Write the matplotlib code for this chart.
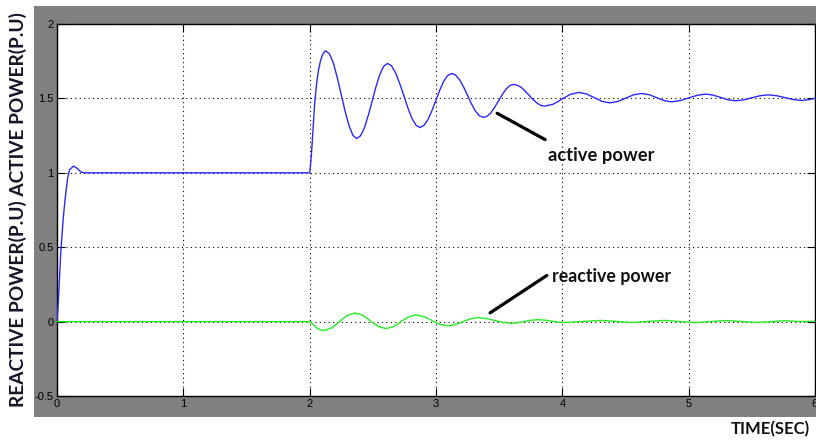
import matplotlib
matplotlib.use("Agg")
import matplotlib.pyplot as plt
from matplotlib.patches import Rectangle

# ---- data ----
active_t = [0.0, 0.01, 0.03, 0.05, 0.065, 0.085, 0.10, 0.13, 0.16, 0.19, 0.22, 2.0,
            2.01, 2.02, 2.03, 2.04, 2.055, 2.07, 2.085, 2.10, 2.115, 2.127,
            2.158, 2.189, 2.219, 2.25, 2.281, 2.312, 2.342, 2.373,
            2.403, 2.434, 2.464, 2.495, 2.525, 2.555, 2.586, 2.616,
            2.648, 2.68, 2.712, 2.745, 2.777, 2.809, 2.841, 2.873,
            2.904, 2.936, 2.967, 2.999, 3.03, 3.061, 3.093, 3.124,
            3.155, 3.187, 3.218, 3.25, 3.281, 3.312, 3.344, 3.375,
            3.405, 3.435, 3.465, 3.495, 3.524, 3.554, 3.584, 3.614,
            3.645, 3.676, 3.706, 3.737, 3.768, 3.799, 3.829, 3.86,
            3.928, 3.995, 4.063, 4.13,
            4.191, 4.253, 4.314, 4.375,
            4.438, 4.501, 4.564, 4.627,
            4.687, 4.746, 4.806, 4.865,
            4.933, 5.0, 5.068, 5.135,
            5.194, 5.253, 5.311, 5.37,
            5.435, 5.5, 5.565, 5.63,
            5.697, 5.764, 5.83, 5.897,
            5.95, 6.0]
active_p = [0.0, 0.12, 0.47, 0.70, 0.83, 0.97, 1.02, 1.045, 1.03, 1.005, 1.0, 1.0,
            1.08, 1.20, 1.34, 1.47, 1.60, 1.69, 1.75, 1.79, 1.812, 1.82,
            1.798, 1.734, 1.638, 1.525, 1.412, 1.316, 1.252, 1.23,
            1.249, 1.304, 1.386, 1.4825, 1.579, 1.661, 1.716, 1.735,
            1.719, 1.672, 1.602, 1.5195, 1.437, 1.367, 1.320, 1.304,
            1.318, 1.357, 1.416, 1.486, 1.556, 1.615, 1.654, 1.668,
            1.657, 1.625, 1.577, 1.52, 1.463, 1.415, 1.383, 1.372,
            1.380, 1.404, 1.441, 1.483, 1.525, 1.562, 1.586, 1.594,
            1.588, 1.573, 1.549, 1.521, 1.493, 1.469, 1.4535, 1.448,
            1.461, 1.494, 1.527, 1.54,
            1.53, 1.505, 1.48, 1.47,
            1.479, 1.5015, 1.524, 1.533,
            1.525, 1.505, 1.485, 1.477,
            1.485, 1.503, 1.521, 1.529,
            1.522, 1.5065, 1.491, 1.484,
            1.49, 1.504, 1.518, 1.524,
            1.518, 1.505, 1.492, 1.486,
            1.492, 1.50]

reactive_t = [0.0, 2.0, 2.03, 2.06, 2.09, 2.113,
              2.174, 2.235, 2.296, 2.357,
              2.419, 2.48, 2.542, 2.603,
              2.663, 2.722, 2.782, 2.841,
              2.904, 2.967, 3.03, 3.093,
              3.153, 3.212, 3.272, 3.331,
              3.397, 3.463, 3.529, 3.595,
              3.648, 3.701, 3.754, 3.807,
              3.86, 3.913, 3.967, 4.02,
              4.165, 4.31, 4.43, 4.55, 4.68, 4.81, 4.93, 5.05, 5.17, 5.29,
              5.42, 5.55, 5.655, 5.76, 5.88, 6.0]
reactive_q = [0.0, 0.0, -0.02, -0.045, -0.057, -0.06,
              -0.043, -0.001, 0.041, 0.058,
              0.043, 0.0055, -0.032, -0.047,
              -0.034, -0.001, 0.032, 0.045,
              0.034, 0.008, -0.018, -0.029,
              -0.021, -0.001, 0.019, 0.027,
              0.021, 0.008, -0.0055, -0.011,
              -0.0075, 0.001, 0.0095, 0.013,
              0.010, 0.0035, -0.003, -0.006,
              0.001, 0.008, 0.001, -0.006, 0.001, 0.008, 0.0005, -0.007, 0.0, 0.007,
              0.0005, -0.006, 0.0, 0.006, 0.0, 0.002]

x_ticks = [0, 1, 2, 3, 4, 5, 6]
y_ticks = [-0.5, 0, 0.5, 1, 1.5, 2]
y_tick_labels = ["-0.5", "0", "0.5", "1", "1.5", "2"]

W, H = 816, 444
fig = plt.figure(figsize=(W / 100, H / 100), dpi=100)
fig.patch.set_facecolor("white")

# gray MATLAB-like frame
fig.add_artist(Rectangle((34 / W, 1 - 417 / H), 1 - 34 / W, (417 - 6) / H,
                         transform=fig.transFigure, facecolor="#808080",
                         edgecolor="none", zorder=0))

ax = fig.add_axes([57 / W, 1 - 396 / H, (815 - 57) / W, (396 - 24) / H])
ax.set_facecolor("white")
ax.set_zorder(1)

ax.plot(active_t, active_p, color="#2a2aff", lw=1.0, zorder=3)
ax.plot(reactive_t, reactive_q, color="#22ee22", lw=1.0, zorder=3)

ax.set_xlim(0, 6)
ax.set_ylim(-0.5, 2)
ax.set_xticks(x_ticks)
ax.set_yticks(y_ticks)
ax.set_yticklabels(y_tick_labels)
ax.grid(True, color="black", linestyle=(0, (1, 3)), linewidth=0.8)
ax.tick_params(direction="in", length=6, width=0.8, top=True, right=True,
               labelsize=8, colors="black", pad=2.5)
for lab in ax.get_xticklabels() + ax.get_yticklabels():
    lab.set_fontfamily("Liberation Sans")
for s in ax.spines.values():
    s.set_color("black")
    s.set_linewidth(1.0)

# annotations
ax.plot([3.484, 3.864], [1.40, 1.223], color="black", lw=2.3, solid_capstyle="round", zorder=4)
ax.text(3.888, 1.117, "active power", fontsize=13.2, fontweight="bold", family="Lato",
        color="#111111", va="center", ha="left", zorder=5)
ax.plot([3.428, 3.877], [0.0586, 0.31], color="black", lw=2.3, solid_capstyle="round", zorder=4)
ax.text(3.919, 0.303, "reactive power", fontsize=12.8, fontweight="bold", family="Lato",
        color="#111111", va="center", ha="left", zorder=5)

fig.text(810 / W, 1 - 429 / H, "TIME(SEC)", fontsize=12, fontweight="bold",
         family="Lato", color="#111111", ha="right", va="center")
fig.text(18 / W, 1 - 210 / H, "REACTIVE POWER(P.U) ACTIVE POWER(P.U)", rotation=90,
         fontsize=13.8, fontweight="bold", family="Lato", color="#15152a",
         ha="center", va="center")

fig.savefig("out.png", dpi=100, facecolor="white")
